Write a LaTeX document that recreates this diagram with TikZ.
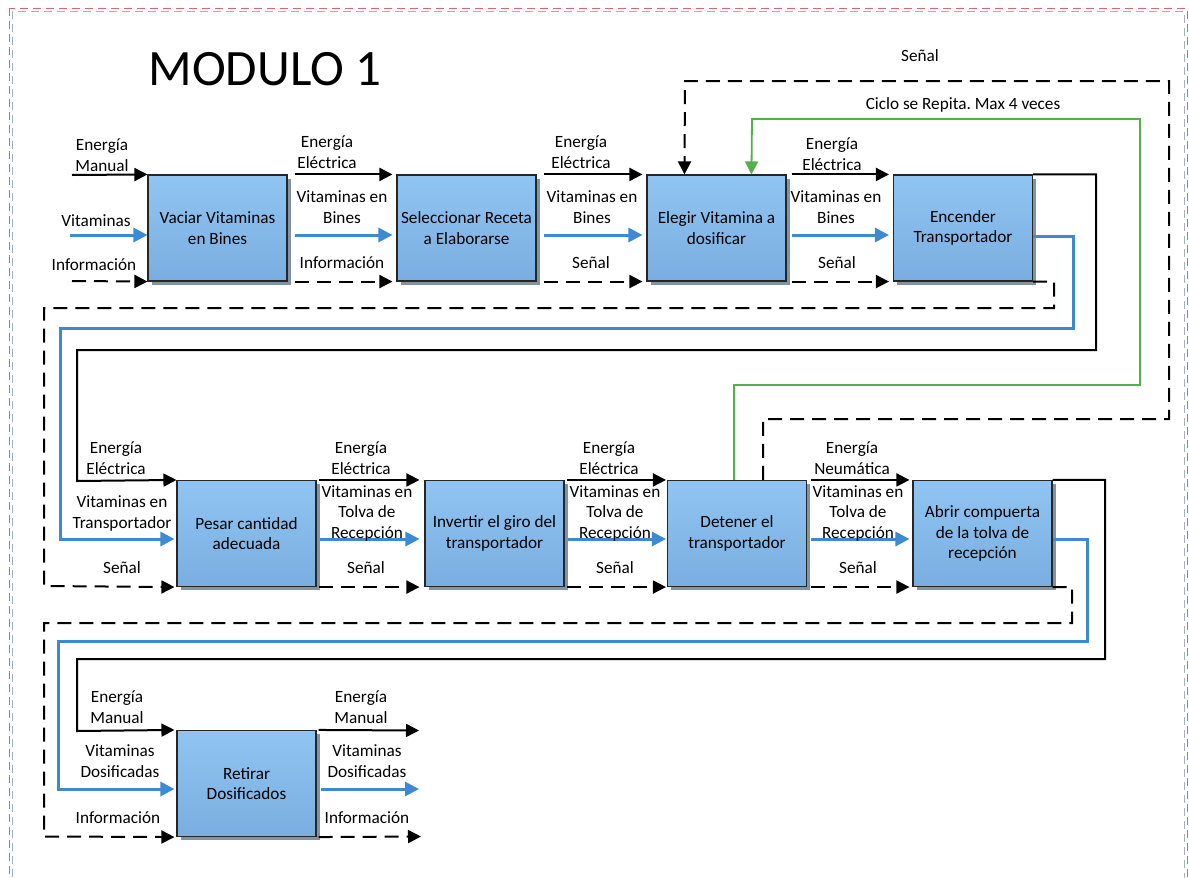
\documentclass[tikz,border=0pt]{standalone}
\usepackage{fontspec}
\setmainfont{Carlito}
\frenchspacing
\usetikzlibrary{arrows.meta,shadows,calc}
\definecolor{boxtop}{RGB}{144,196,242}
\definecolor{boxbot}{RGB}{122,174,224}
\definecolor{shadowc}{RGB}{128,148,164}
\definecolor{vblue}{RGB}{61,137,210}
\definecolor{vgreen}{RGB}{80,178,72}
\definecolor{framered}{RGB}{228,100,100}
\definecolor{framegray}{RGB}{160,178,196}
\newcommand{\lblfont}{\fontsize{17.2}{20.5}\selectfont}
\tikzset{
  proc/.style={draw=black!85, line width=1.1pt, top color=boxtop, bottom color=boxbot,
    minimum width=139, minimum height=106, align=center, inner sep=0, font=\lblfont,
    drop shadow={shadow xshift=3.5pt, shadow yshift=-3.5pt, fill=shadowc, opacity=1}},
  lbl/.style={anchor=base, align=center, inner sep=0, font=\lblfont},
  eline/.style={line width=2pt, draw=black},
  earrow/.style={eline, -{Triangle[length=13pt,width=13pt]}},
  bline/.style={line width=3pt, draw=vblue},
  barrow/.style={bline, -{Triangle[length=14pt,width=14pt]}},
  dline/.style={line width=2pt, draw=black, dash pattern=on 14pt off 8pt},
  darrow/.style={dline, -{Triangle[length=13pt,width=13pt]}},
  gline/.style={line width=1.8pt, draw=vgreen},
  garrow/.style={gline, -{Triangle[length=13pt,width=13pt]}},
}
\begin{document}
\begin{tikzpicture}[x=1pt,y=-1pt]
\clip (0,0) rectangle (1189,878);
\fill[white] (0,0) rectangle (1189,878);
% frame
\draw[framegray, line width=0.7pt, dash pattern=on 8pt off 5pt] (12,11) rectangle (1184,900);
\draw[framered, line width=1pt, dash pattern=on 8pt off 5pt] (9,8) rectangle (1187,900);

% title
\node[anchor=base, inner sep=0, font=\fontsize{51}{60}\selectfont] (title) at (265,85) {MODULO 1};

% boxes
\node[proc] (b1) at (217.5,228) {Vaciar Vitaminas\\en Bines};
\node[proc] (b2) at (466.5,228) {Seleccionar Receta\\a Elaborarse};
\node[proc] (b3) at (716.5,228) {Elegir Vitamina a\\dosificar};
\node[proc] (b4) at (963,228) {Encender\\Transportador};
\node[proc] (b5) at (246.5,533.5) {Pesar cantidad\\adecuada};
\node[proc] (b6) at (494.5,533.5) {Invertir el giro del\\transportador};
\node[proc] (b7) at (737,533.5) {Detener el\\transportador};
\node[proc] (b8) at (982.5,533.5) {Abrir compuerta\\de la tolva de\\recepción};
\node[proc] (b9) at (246.5,783.5) {Retirar\\Dosificados};

% feedback loops
\coordinate (s1) at (1169,419);
\coordinate (s2) at (685,81);
\draw[darrow] ($(b7.north)+(26,0)$) |- (s1) |- (s2) -- ($(b3.north west)+(38,0)$);
\coordinate (g1) at (1140,385);
\coordinate (g2) at (752,119);
\draw[garrow] ($(b7.north)+(-3,0)$) |- (g1) |- (g2) -- ($(b3.north west)+(105,0)$);
\node[lbl] (lsig) at (920,61) {Señal};
\node[lbl] (lcic) at (963,109) {Ciclo se Repita. Max 4 veces};

% row 1 inputs
\coordinate (i1e) at (72,175);
\coordinate (i1v) at (70,235);
\coordinate (i1i) at (72,281);
\draw[earrow] (i1e) -- (b1.north west);
\draw[barrow] (i1v) -- ($(b1.west)+(0,7)$);
\draw[darrow] (i1i) -- (b1.south west);
\node[lbl] (l1a) at (102,171) {Energía\\Manual};
\node[lbl] (l1b) at (96,226) {Vitaminas};
\node[lbl] (l1c) at (94,270) {Información};

% b1 -> b2
\draw[earrow] ($(b1.north east)+(7,0)$) -- ($(b2.north west)+(-4,0)$);
\draw[barrow] ($(b1.east)+(7,7)$) -- ($(b2.west)+(-4,7)$);
\draw[darrow] ($(b1.south east)+(7,0)$) -- ($(b2.south west)+(-4,0)$);
\node[lbl] (l2a) at (327,168) {Energía\\Eléctrica};
\node[lbl] (l2b) at (342,223) {Vitaminas en\\Bines};
\node[lbl] (l2c) at (342,268) {Información};

% b2 -> b3
\draw[earrow] ($(b2.north east)+(7,0)$) -- ($(b3.north west)+(-4,0)$);
\draw[barrow] ($(b2.east)+(7,7)$) -- ($(b3.west)+(-4,7)$);
\draw[darrow] ($(b2.south east)+(7,0)$) -- ($(b3.south west)+(-4,0)$);
\node[lbl] (l3a) at (581,168) {Energía\\Eléctrica};
\node[lbl] (l3b) at (592,223) {Vitaminas en\\Bines};
\node[lbl] (l3c) at (591,268) {Señal};

% b3 -> b4
\draw[earrow] ($(b3.north east)+(5,0)$) -- ($(b4.north west)+(-4,0)$);
\draw[barrow] ($(b3.east)+(5,7)$) -- ($(b4.west)+(-4,7)$);
\draw[darrow] ($(b3.south east)+(5,0)$) -- ($(b4.south west)+(-4,0)$);
\node[lbl] (l4a) at (832,170) {Energía\\Eléctrica};
\node[lbl] (l4b) at (836,223) {Vitaminas en\\Bines};
\node[lbl] (l4c) at (837,268) {Señal};

% b4 -> b5 (wrap)
\coordinate (w1e) at (1096,350);
\coordinate (w2e) at (77,481);
\coordinate (w1b) at (1073,328);
\coordinate (w2b) at (60,539);
\coordinate (w1d) at (1054,308);
\coordinate (w2d) at (44,586);
\draw[earrow] (b4.north east) -| (w1e) -| (w2e) -- (b5.north west);
\draw[barrow] ($(b4.east)+(0,8)$) -| (w1b) -| (w2b) -- ($(b5.west)+(-2,5.5)$);
\draw[darrow] (b4.south east) -| (w1d) -| (w2d) -- ($(b5.south west)+(-2,0)$);
\node[lbl] (l5a) at (116,474) {Energía\\Eléctrica};
\node[lbl] (l5b) at (122,528) {Vitaminas en\\Transportador};
\node[lbl] (l5c) at (122,573) {Señal};

% b5 -> b6
\draw[earrow] ($(b5.north east)+(2,0)$) -- ($(b6.north west)+(-5,0)$);
\draw[barrow] ($(b5.east)+(3,5.5)$) -- ($(b6.west)+(-5,5.5)$);
\draw[darrow] ($(b5.south east)+(2,0)$) -- ($(b6.south west)+(-5,0)$);
\node[lbl] (l6a) at (361,474) {Energía\\Eléctrica};
\node[lbl] (l6b) at (367,538) {Vitaminas en\\Tolva de\\Recepción};
\node[lbl] (l6c) at (366,573) {Señal};

% b6 -> b7
\draw[earrow] ($(b6.north east)+(2,0)$) -- ($(b7.north west)+(-1,0)$);
\draw[barrow] ($(b6.east)+(3,5.5)$) -- ($(b7.west)+(-1,5.5)$);
\draw[darrow] ($(b6.south east)+(2,0)$) -- ($(b7.south west)+(-1,0)$);
\node[lbl] (l7a) at (609,474) {Energía\\Eléctrica};
\node[lbl] (l7b) at (615,538) {Vitaminas en\\Tolva de\\Recepción};
\node[lbl] (l7c) at (615,573) {Señal};

% b7 -> b8
\draw[earrow] ($(b7.north east)+(4,0)$) -- ($(b8.north west)+(-3,0)$);
\draw[barrow] ($(b7.east)+(4,5.5)$) -- ($(b8.west)+(-3,5.5)$);
\draw[darrow] ($(b7.south east)+(4,0)$) -- ($(b8.south west)+(-3,0)$);
\node[lbl] (l8a) at (852,474) {Energía\\Neumática};
\node[lbl] (l8b) at (858,538) {Vitaminas en\\Tolva de\\Recepción};
\node[lbl] (l8c) at (858,573) {Señal};

% b8 -> b9 (wrap)
\coordinate (v1e) at (1105,659);
\coordinate (v2e) at (77,731);
\coordinate (v1b) at (1087,641);
\coordinate (v2b) at (58,789);
\coordinate (v1d) at (1072,623);
\coordinate (v2d) at (44,836.5);
\draw[earrow] (b8.north east) -| (v1e) -| (v2e) -- ($(b9.north west)+(-2,0)$);
\draw[barrow] ($(b8.east)+(0,6)$) -| (v1b) -| (v2b) -- ($(b9.west)+(-2,5.5)$);
\draw[darrow] (b8.south east) -| (v1d) -| (v2d) -- ($(b9.south west)+(-2,0)$);
\node[lbl] (l9a) at (117,723) {Energía\\Manual};
\node[lbl] (l9b) at (120,777) {Vitaminas\\Dosificadas};
\node[lbl] (l9c) at (118,823) {Información};

% b9 outputs
\coordinate (o1) at (419,730.5);
\coordinate (o2) at (419,789);
\coordinate (o3) at (421,836.5);
\draw[earrow] ($(b9.north east)+(2,0)$) -- (o1);
\draw[barrow] ($(b9.east)+(4,5.5)$) -- (o2);
\draw[darrow] ($(b9.south east)+(2,0)$) -- (o3);
\node[lbl] (l10a) at (361,723) {Energía\\Manual};
\node[lbl] (l10b) at (367,777) {Vitaminas\\Dosificadas};
\node[lbl] (l10c) at (367,823) {Información};
\end{tikzpicture}
\end{document}
